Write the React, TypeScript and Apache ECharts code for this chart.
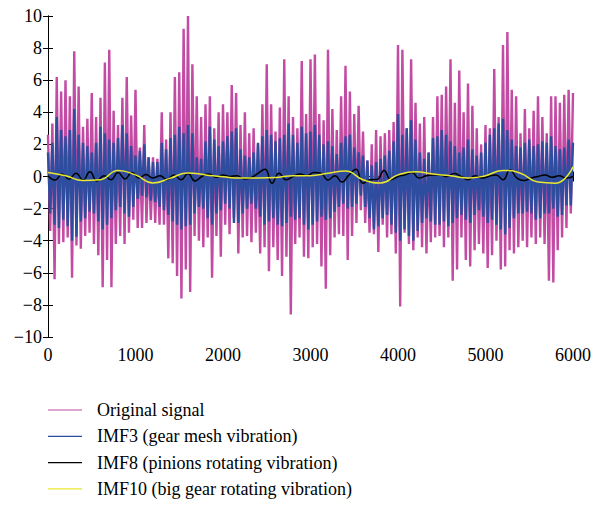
import React, { useEffect, useRef } from "react";
import * as echarts from "echarts";

// sample spacing of the envelope readings
const STEP = 50;

// Original signal: upper spikes at s = 0, 50, ..., 6000
const originalUpper = [
  2.6, 3.3, 6.2, 5.3, 6.0, 5.0, 7.8, 5.6, 3.1, 3.6, 5.2, 3.7, 4.9, 7.1, 7.9, 4.1, 3.2, 4.9, 6.2, 3.8,
  5.4, 1.8, 3.2, 1.2, 1.2, 1.1, 4.0, 2.3, 4.0, 6.2, 6.5, 9.2, 10.0, 7.0, 5.0, 3.7, 4.5, 5.0, 3.0, 4.0,
  4.5, 4.0, 5.7, 5.2, 3.2, 4.0, 2.7, 3.0, 2.0, 4.5, 7.0, 4.5, 2.8, 4.3, 7.3, 5.0, 3.7, 3.0, 7.2, 3.9,
  7.3, 7.6, 3.9, 3.5, 7.9, 4.2, 2.9, 5.0, 6.9, 5.3, 3.9, 4.4, 2.8, 1.0, 2.0, 2.9, 2.5, 2.7, 2.9, 3.4,
  8.2, 7.9, 3.0, 7.3, 4.6, 3.3, 3.7, 1.5, 3.7, 5.0, 5.1, 5.6, 7.3, 4.6, 6.6, 4.0, 5.8, 4.4, 3.0, 2.0,
  3.2, 3.0, 6.7, 3.7, 8.2, 9.0, 5.4, 5.0, 2.7, 4.2, 3.0, 4.1, 5.0, 3.7, 2.7, 5.0, 5.0, 4.6, 5.1, 5.4,
  5.2,
];
// Original signal: lower spikes at s = 25, 75, ..., 5975
const originalLower = [
  -3.4, -6.4, -4.2, -4.1, -3.8, -6.3, -4.3, -4.5, -3.7, -3.5, -4.2, -4.9, -6.9, -5.2, -6.9, -4.2, -3.7, -4.2, -3.5, -2.7,
  -3.2, -3.2, -2.9, -2.7, -2.9, -3.0, -3.0, -5.1, -5.4, -6.2, -7.6, -5.8, -7.2, -3.7, -4.0, -4.4, -3.8, -6.3, -3.7, -5.0,
  -3.0, -3.6, -2.6, -4.8, -3.8, -3.7, -4.1, -3.5, -4.8, -4.4, -5.9, -4.4, -5.2, -6.2, -5.0, -8.6, -4.2, -3.8, -5.0, -5.1,
  -4.4, -4.2, -5.6, -7.0, -4.9, -3.8, -3.6, -3.7, -5.2, -3.7, -2.9, -2.1, -2.9, -3.5, -3.6, -4.7, -3.0, -3.8, -3.6, -4.8,
  -8.1, -3.5, -4.2, -4.6, -3.8, -4.4, -4.8, -4.1, -3.8, -3.7, -4.4, -3.8, -6.5, -5.8, -3.8, -5.2, -5.6, -4.6, -4.2, -4.8,
  -5.7, -4.9, -4.0, -5.8, -5.6, -4.6, -4.8, -4.4, -4.0, -4.4, -3.8, -4.2, -3.8, -4.2, -6.5, -6.6, -4.6, -3.8, -3.2, -2.3,
];

// IMF3: upper spikes at s = 0, 50, ..., 6000
const imf3Upper = [
  1.5, 2.1, 3.7, 2.9, 2.5, 2.9, 4.2, 2.6, 2.1, 1.9, 1.5, 2.1, 3.1, 2.7, 2.3, 2.1, 2.4, 3.2, 2.7, 1.9,
  1.3, 1.6, 2.0, 1.2, 0.9, 0.9, 2.1, 1.7, 2.4, 2.6, 3.1, 2.7, 3.2, 2.7, 1.2, 1.1, 2.2, 3.1, 2.3, 1.9,
  2.2, 2.5, 2.8, 3.0, 1.7, 1.3, 1.2, 1.5, 2.1, 2.5, 2.9, 2.6, 2.2, 2.4, 2.6, 3.3, 2.6, 2.1, 3.1, 2.7,
  2.8, 3.2, 2.6, 2.0, 2.2, 1.9, 1.4, 2.1, 2.5, 2.6, 1.8, 1.5, 1.3, 1.0, 0.7, 0.9, 1.1, 1.3, 1.6, 2.2,
  3.9, 2.6, 3.0, 3.5, 2.3, 1.5, 1.1, 1.5, 2.4, 2.5, 2.9, 2.6, 2.2, 1.9, 1.5, 1.8, 2.3, 1.7, 1.3, 1.5,
  2.1, 2.6, 3.0, 3.3, 3.6, 2.9, 2.3, 1.9, 1.8, 2.1, 2.3, 1.9, 2.0, 2.2, 2.1, 2.5, 1.9, 1.7, 1.8, 2.3,
  2.1,
];
// IMF3: lower spikes at s = 25, 75, ..., 5975
const imf3Lower = [
  -2.3, -3.0, -3.2, -2.7, -3.1, -4.0, -3.75, -2.8, -2.6, -2.2, -2.3, -2.8, -3.3, -3.0, -2.6, -2.1, -1.9, -2.3, -2.5, -1.9,
  -1.4, -1.2, -1.3, -1.5, -1.6, -1.9, -2.1, -2.4, -2.8, -3.0, -3.3, -3.1, -3.0, -2.3, -1.9, -2.0, -2.6, -3.0, -2.3, -2.1,
  -1.7, -2.0, -2.9, -2.9, -2.3, -2.0, -1.7, -2.0, -2.5, -3.0, -2.8, -2.6, -3.0, -3.1, -2.9, -2.5, -2.7, -2.6, -3.0, -3.3,
  -3.0, -2.8, -2.5, -2.7, -2.6, -2.2, -1.9, -1.7, -2.0, -1.9, -1.7, -1.2, -1.9, -2.6, -3.3, -3.1, -2.6, -2.4, -3.0, -3.5,
  -4.0, -3.3, -3.7, -4.0, -3.4, -2.9, -2.6, -2.8, -3.0, -3.0, -2.8, -3.1, -2.9, -2.6, -2.4, -2.7, -2.9, -2.4, -2.1, -2.5,
  -2.9, -2.7, -3.0, -3.3, -3.6, -3.2, -2.6, -2.3, -2.3, -2.2, -2.3, -2.7, -2.6, -2.3, -2.3, -2.0, -2.5, -2.4, -1.8, -1.8,
];

// IMF8: values at s = 0, 80, ..., 6000
const IMF8_STEP = 80;
const imf8 = [
  0.05, -0.22, 0.15, -0.17, 0.2, -0.22, 0.3, -0.28, 0.05, -0.2, 0.25, -0.15, 0.25, -0.1, 0.13, -0.1, 0.05, -0.2, 0.1, -0.2,
  0.18, -0.28, 0.0, 0.15, -0.05, 0.1, 0.0, 0.05, -0.15, -0.08, 0.2, 0.45, -0.42, 0.2, -0.2, 0.0, 0.15, 0.05, 0.25, 0.2,
  -0.22, 0.05, -0.35, 0.1, 0.45, -0.42, -0.2, -0.18, 0.38, -0.2, 0.0, 0.1, 0.25, -0.1, 0.05, 0.1, 0.1, 0.0, 0.18, 0.0,
  -0.2, 0.05, -0.1, 0.02, 0.1, -0.2, 0.4, -0.1, -0.25, -0.1, 0.0, 0.1, -0.05, 0.05, -0.1, 0.0,
];

// IMF10: values at s = 0, 200, ..., 6000
const IMF10_STEP = 200;
const imf10 = [
  0.25, 0.05, -0.25, -0.2, 0.38, 0.1, -0.4, -0.1, 0.22, 0.1, -0.02, -0.1, -0.1, -0.07, 0.05, 0.05,
  0.2, 0.34, -0.2, -0.4, 0.1, 0.3, 0.15, 0.05, -0.1, 0.05, 0.38, 0.2, -0.35, -0.42, 0.6,
];

const seriesNames = [
  "Original signal",
  "IMF3 (gear mesh vibration)",
  "IMF8 (pinions rotating vibration)",
  "IMF10 (big gear rotating vibration)",
];

const FONT = "'Liberation Serif', 'DejaVu Serif', serif";

function interleave(upper: number[], lower: number[], step: number): number[][] {
  const out: number[][] = [];
  for (let k = 0; k < upper.length; k++) {
    out.push([k * step, upper[k]]);
    if (k < lower.length) out.push([k * step + step / 2, lower[k]]);
  }
  return out;
}

function regular(vals: number[], step: number): number[][] {
  return vals.map((v, i) => [i * step, v]);
}

const minus = (v: number) => String(v).replace("-", "\u2212");

export default function App() {
  const ref = useRef<HTMLDivElement>(null);
  useEffect(() => {
    if (!ref.current) return;
    const chart = echarts.init(ref.current, null, { renderer: "svg" });
    const axisCommon = {
      axisLine: { show: true, lineStyle: { color: "#000", width: 1 } },
      axisTick: { show: true, inside: true, length: 5, lineStyle: { color: "#000" } },
      splitLine: { show: false },
    };
    chart.setOption({
      animation: false,
      backgroundColor: "#fff",
      grid: { left: 48, right: 19, top: 16, bottom: 168, containLabel: false },
      xAxis: [
        {
          type: "value", min: 0, max: 6000, interval: 1000, position: "bottom",
          ...axisCommon,
          axisLabel: { color: "#000", fontFamily: FONT, fontSize: 18, margin: 9, formatter: (v: number) => String(v) },
        },
        {
          type: "value", min: 0, max: 6000, interval: 1000, position: "top",
          ...axisCommon, axisLabel: { show: false },
        },
      ],
      yAxis: [
        {
          type: "value", min: -10, max: 10, interval: 2, position: "left",
          ...axisCommon,
          axisLabel: { color: "#000", fontFamily: FONT, fontSize: 18, margin: 6, formatter: minus },
        },
        {
          type: "value", min: -10, max: 10, interval: 2, position: "right",
          ...axisCommon, axisLabel: { show: false },
        },
      ],
      legend: {
        orient: "vertical",
        left: 48,
        top: 401,
        height: 104,
        padding: 0,
        icon: "rect",
        itemWidth: 34,
        itemHeight: 1.2,
        itemGap: 8.3,
        data: seriesNames,
        textStyle: { fontFamily: FONT, fontSize: 18, color: "#000", lineHeight: 18, padding: [0, 0, 0, 10] },
      },
      series: [
        {
          name: seriesNames[0], type: "line", showSymbol: false, symbol: "none",
          color: "#c24ba3", lineStyle: { width: 2.4, color: "#c24ba3" },
          data: interleave(originalUpper, originalLower, STEP), silent: true,
        },
        {
          name: seriesNames[1], type: "line", showSymbol: false, symbol: "none",
          color: "#2f4d9e", lineStyle: { width: 2.4, color: "#2f4d9e" },
          data: interleave(imf3Upper, imf3Lower, STEP), silent: true,
        },
        {
          name: seriesNames[2], type: "line", showSymbol: false, symbol: "none", smooth: 0.5,
          color: "#000", lineStyle: { width: 1.5, color: "#000" },
          data: regular(imf8, IMF8_STEP), silent: true,
        },
        {
          name: seriesNames[3], type: "line", showSymbol: false, symbol: "none", smooth: 0.5,
          color: "#e8e830", lineStyle: { width: 1.5, color: "#e8e830" },
          data: regular(imf10, IMF10_STEP), silent: true,
        },
      ],
    });
    return () => chart.dispose();
  }, []);
  return <div ref={ref} style={{ position: "fixed", left: 0, top: 0, width: 594, height: 505 }} />;
}
